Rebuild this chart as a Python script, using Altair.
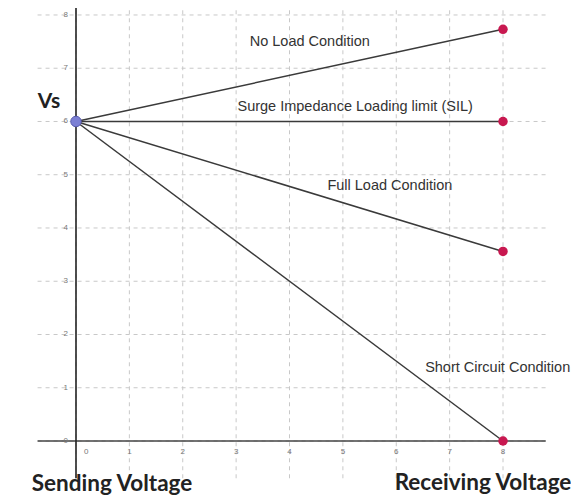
import altair as alt
import pandas as pd

# ---- data ----
conditions = ["No Load Condition", "Surge Impedance Loading limit (SIL)",
              "Full Load Condition", "Short Circuit Condition"]
vs_value = 6.0
vr_x = 8.0
vr_values = [7.73, 6.0, 3.56, 0.0]
label_x = [4.38, 5.23, 5.88, 7.9]
label_y = [7.49, 6.27, 4.79, 1.37]
x_ticks = [0, 1, 2, 3, 4, 5, 6, 7, 8]
y_ticks = [0, 1, 2, 3, 4, 5, 6, 7, 8]

X_DOM = [-1.274, 9.274]
Y_DOM = [-1.033, 8.131]

xs = alt.Scale(domain=X_DOM, nice=False, zero=False)
ys = alt.Scale(domain=Y_DOM, nice=False, zero=False)

seg = pd.DataFrame({
    "cond": conditions,
    "x0": [0.0] * 4, "y0": [vs_value] * 4,
    "x1": [vr_x] * 4, "y1": vr_values,
})
labels = pd.DataFrame({"cond": conditions, "lx": label_x, "ly": label_y})
xt = pd.DataFrame({"v": x_ticks})
yt = pd.DataFrame({"v": y_ticks})
origin = pd.DataFrame({"x": [0.0], "y": [vs_value]})

X = lambda f: alt.X(f, type="quantitative", scale=xs, axis=None)
Y = lambda f: alt.Y(f, type="quantitative", scale=ys, axis=None)

GRID = "#c8c8c8"

vgrid = alt.Chart(xt).transform_calculate(ya=str(-0.7), yb=str(8.3)).mark_rule(
    color=GRID, strokeDash=[4, 4], strokeWidth=1
).encode(x=X("v:Q"), y=Y("ya:Q"), y2="yb:Q")

hgrid = alt.Chart(yt).transform_calculate(xa=str(-0.72), xb=str(8.8)).mark_rule(
    color=GRID, strokeDash=[4, 4], strokeWidth=1
).encode(y=Y("v:Q"), x=X("xa:Q"), x2="xb:Q")

yaxis = alt.Chart(origin).transform_calculate(ya=str(-0.7), yb=str(8.2), x0="0").mark_rule(
    color="#222", strokeWidth=1.6
).encode(x=X("x0:Q"), y=Y("ya:Q"), y2="yb:Q")

xaxis = alt.Chart(origin).transform_calculate(xa=str(-0.72), xb=str(8.8), y0="0").mark_rule(
    color="#444", strokeWidth=1.6
).encode(y=Y("y0:Q"), x=X("xa:Q"), x2="xb:Q")

xlab = alt.Chart(xt).transform_calculate(
    px="datum.v == 0 ? 0.19 : datum.v", py="-0.2"
).mark_text(fontSize=8, color="#777", font="Liberation Sans").encode(
    x=X("px:Q"), y=Y("py:Q"), text="v:Q"
)

ylab = alt.Chart(yt).transform_calculate(px="-0.15").mark_text(
    fontSize=8, color="#777", font="Liberation Sans", align="right", baseline="middle"
).encode(x=X("px:Q"), y=Y("v:Q"), text="v:Q")

lines = alt.Chart(seg).mark_rule(color="#3a3a3a", strokeWidth=1.5).encode(
    x=X("x0:Q"), y=Y("y0:Q"), x2="x1:Q", y2="y1:Q"
)

ends = alt.Chart(seg).mark_point(filled=True, size=90, color="#c81850", opacity=1).encode(
    x=X("x1:Q"), y=Y("y1:Q")
)

start = alt.Chart(origin).mark_point(filled=True, size=110, color="#7c80d4", opacity=1,
                                     stroke="#5a5db0", strokeWidth=1).encode(
    x=X("x:Q"), y=Y("y:Q")
)

texts = alt.Chart(labels).mark_text(fontSize=14.5, color="#333", font="Liberation Sans").encode(
    x=X("lx:Q"), y=Y("ly:Q"), text="cond:N"
)

vs = alt.Chart(origin).mark_text(text="Vs", fontSize=21, fontWeight="bold",
                                 font="Lato", color="#222").encode(
    x=alt.value(41), y=alt.value(94)
)
send = alt.Chart(origin).mark_text(text="Sending Voltage", fontSize=22.5, fontWeight="bold",
                                   font="Lato", color="#222", baseline="alphabetic").encode(
    x=alt.value(104), y=alt.value(483)
)
recv = alt.Chart(origin).mark_text(text="Receiving Voltage", fontSize=22.5, fontWeight="bold",
                                   font="Lato", color="#222", baseline="alphabetic").encode(
    x=alt.value(475), y=alt.value(482)
)

chart = alt.layer(
    vgrid, hgrid, xaxis, yaxis, xlab, ylab, lines, ends, start, texts, vs, send, recv
).properties(
    width=563, height=488, autosize=alt.AutoSizeParams(type="none"), padding=0,
    background="white"
).configure_view(stroke=None)

chart.save("out.html", embed_options={"renderer": "svg", "actions": False})
